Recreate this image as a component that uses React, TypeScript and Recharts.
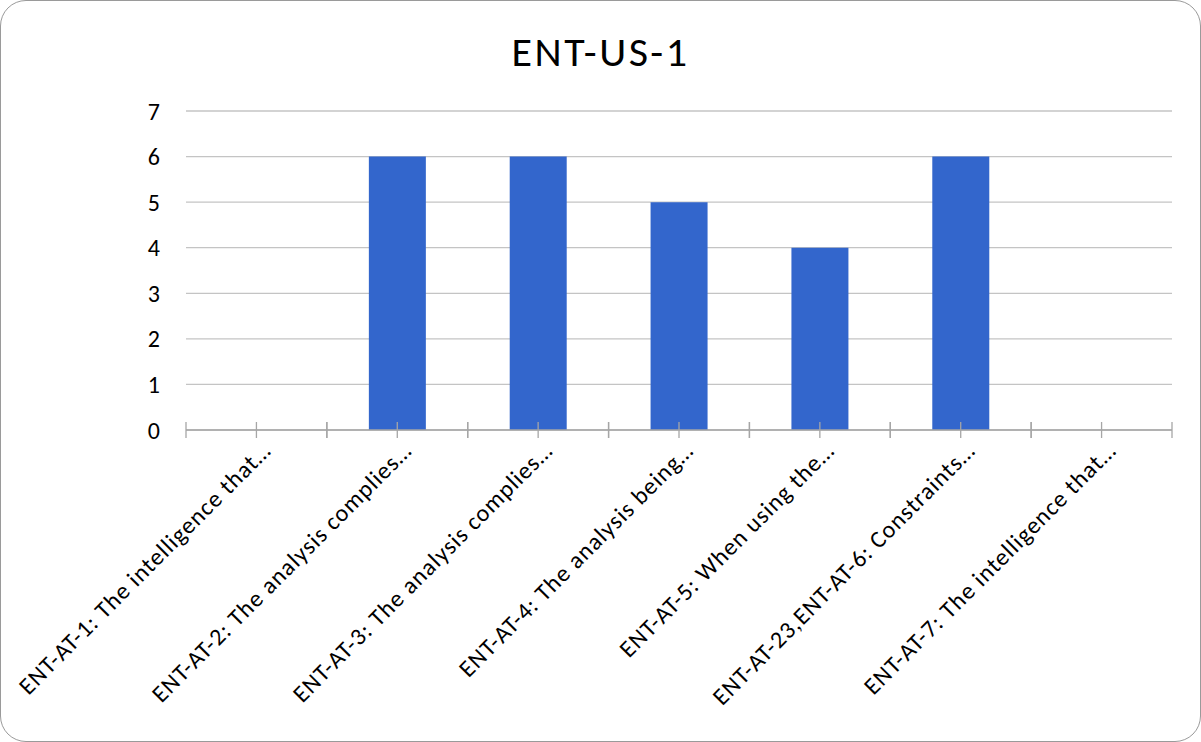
import React from 'react'
import { BarChart, Bar, XAxis, YAxis, CartesianGrid } from 'recharts'

const categories = [
  'ENT-AT-1: The intelligence that…',
  'ENT-AT-2: The analysis complies…',
  'ENT-AT-3: The analysis complies…',
  'ENT-AT-4: The analysis being…',
  'ENT-AT-5: When using the…',
  'ENT-AT-23,ENT-AT-6: Constraints…',
  'ENT-AT-7: The intelligence that…',
]
const counts = [0, 6, 6, 5, 4, 6, 0]
const yTicks = [0, 1, 2, 3, 4, 5, 6, 7]

const data = categories.map((name, i) => ({ name, count: counts[i] }))

const W = 1201
const H = 742
const M = { top: 111, right: 29, bottom: 0, left: 0 }
const Y_W = 186
const X_H = 312
const BAND = (W - M.left - Y_W - M.right) / categories.length

const FONT = 'Carlito, Calibri, Lato, sans-serif'
const AXIS = '#a6a6a6'

// cross tick at the category center and at both band edges, label slanted up-right
function CategoryTick(props: any) {
  const { x, y, payload } = props
  const half = BAND / 2
  return (
    <g>
      {[x - half, x, x + half].map((tx, i) => (
        <line key={i} x1={tx} x2={tx} y1={y - 8} y2={y + 8} stroke={AXIS} strokeWidth={1.3} />
      ))}
      <text
        x={x + 16}
        y={y + 22}
        transform={`rotate(-45 ${x + 16} ${y + 22})`}
        textAnchor="end"
        fontSize={24}
        letterSpacing={1}
        fontFamily={FONT}
        fill="#000"
      >
        {payload.value}
      </text>
    </g>
  )
}

export default function App() {
  return (
    <div
      style={{
        position: 'relative',
        width: W,
        height: H,
        boxSizing: 'border-box',
        border: '1.5px solid #9a9a9a',
        borderRadius: 26,
        background: '#fff',
        overflow: 'hidden',
      }}
    >
      <style>{'body{margin:0}'}</style>
      <div
        style={{
          position: 'absolute',
          left: 0,
          right: 0,
          top: 23,
          textAlign: 'center',
          fontFamily: FONT,
          fontSize: 42,
          letterSpacing: 2.5,
          color: '#000',
          lineHeight: '56px',
        }}
      >
        ENT-US-1
      </div>
      <BarChart
        width={W}
        height={H}
        data={data}
        margin={M}
        style={{ position: 'absolute', left: -1.5, top: -1.5 }}
      >
        <CartesianGrid vertical={false} stroke="#c4c4c4" strokeWidth={1.3} />
        <YAxis
          width={Y_W}
          domain={[0, 7]}
          ticks={yTicks}
          axisLine={false}
          tickLine={false}
          tickSize={0}
          tickMargin={26}
          tick={{ fontSize: 24, fontFamily: FONT, fill: '#000' }}
        />
        <XAxis
          dataKey="name"
          height={X_H}
          interval={0}
          axisLine={{ stroke: AXIS, strokeWidth: 1.3 }}
          tickLine={false}
          tickSize={0}
          tickMargin={0}
          tick={<CategoryTick />}
        />
        <Bar dataKey="count" fill="#3366cc" barSize={57} isAnimationActive={false} />
      </BarChart>
    </div>
  )
}
